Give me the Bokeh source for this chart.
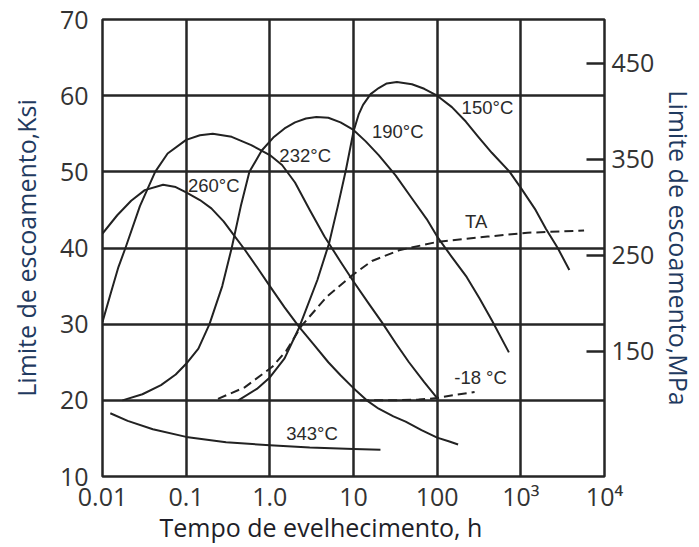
from bokeh.plotting import figure
from bokeh.models import Range1d, LinearAxis, FixedTicker, CustomJSTickFormatter, Title
from bokeh.core.properties import value
from bokeh.embed import file_html
from bokeh.resources import INLINE

# ---------------- data ----------------
x_ticks = [0.01, 0.1, 1.0, 10, 100, 1000, 10000]
x_tick_labels = ["0.01", "0.1", "1.0", "10", "100", "10\u00b3", "10\u2074"]
y_ticks = [10, 20, 30, 40, 50, 60, 70]
mpa_ticks = [150, 250, 350, 450]

t_260 = [0.01, 0.015, 0.022, 0.032, 0.053, 0.075, 0.1, 0.146, 0.2, 0.28, 0.36, 0.5, 0.7, 1.0, 1.5, 2.25, 3.3, 5, 7, 10, 14.4, 20, 30, 42, 65, 100, 140, 178]
v_260 = [41.9, 44.3, 46.2, 47.6, 48.3, 48.0, 47.3, 46.3, 45.2, 43.5, 41.9, 39.8, 37.5, 35.0, 32.2, 29.6, 27.4, 25.0, 23.3, 21.6, 20.0, 18.9, 17.9, 17.2, 16.1, 15.1, 14.6, 14.2]

t_232 = [0.01, 0.0125, 0.0155, 0.0188, 0.028, 0.0426, 0.06, 0.1, 0.146, 0.208, 0.35, 0.6, 1.0, 1.4, 2.0, 3.0, 4.5, 7, 10, 15, 22, 32, 46, 70, 100]
v_232 = [30.3, 34.0, 37.5, 40.0, 45.5, 50.0, 52.4, 54.2, 54.8, 55.0, 54.6, 53.5, 52.2, 50.9, 48.6, 45.0, 41.5, 38.2, 35.6, 32.8, 30.2, 27.5, 25.0, 22.4, 20.3]

t_190 = [0.0173, 0.03, 0.05, 0.075, 0.1, 0.14, 0.19, 0.27, 0.35, 0.45, 0.57, 0.8, 1.1, 1.5, 2.0, 2.7, 3.6, 5, 7, 10, 14, 20, 32, 50, 75, 100, 150, 225, 320, 450, 720]
v_190 = [20.0, 20.8, 22.0, 23.4, 24.8, 26.8, 30.0, 35.0, 40.0, 45.5, 50.0, 52.8, 54.5, 55.7, 56.5, 57.0, 57.2, 57.1, 56.5, 55.5, 54.0, 52.2, 49.5, 46.5, 43.8, 41.5, 38.8, 36.2, 33.4, 30.5, 26.3]

t_150 = [0.42, 0.7, 1.0, 1.5, 2.25, 3.7, 5.1, 6.5, 8.1, 10, 11.5, 13, 16, 20, 25, 33, 50, 70, 100, 150, 220, 310, 450, 735, 1000, 1500, 2000, 2760, 3800]
v_150 = [20.0, 21.5, 23.0, 25.5, 29.6, 35.8, 40.6, 45.5, 50.2, 55.3, 57.5, 58.8, 60.2, 61.0, 61.6, 61.8, 61.5, 60.9, 60.0, 58.5, 56.6, 54.6, 52.5, 50.0, 47.9, 45.0, 42.5, 40.0, 37.1]

t_343 = [0.0124, 0.02, 0.04, 0.1, 0.3, 1.0, 3, 10, 21]
v_343 = [18.3, 17.3, 16.2, 15.2, 14.5, 14.1, 13.8, 13.6, 13.5]

t_ta = [0.24, 0.5, 1.07, 1.57, 2.4, 4.8, 9.6, 16.6, 35, 100, 400, 1200, 5700]
v_ta = [20.2, 21.7, 24.4, 26.5, 29.8, 33.6, 36.4, 38.3, 39.7, 40.8, 41.5, 42.0, 42.3]

t_m18 = [12, 30, 60, 100, 160, 280]
v_m18 = [20.0, 20.0, 20.1, 20.3, 20.7, 21.1]

label_names = ["260\u00b0C", "232\u00b0C", "190\u00b0C", "150\u00b0C", "TA", "-18 \u00b0C", "343\u00b0C"]
label_t = [0.105, 1.3, 16.6, 196, 215, 160, 1.57]
label_v = [48.2, 52.2, 55.3, 58.5, 43.5, 23.0, 15.7]

x_title = "Tempo de evelhecimento, h"
y_title = "Limite de escoamento,Ksi"
y2_title = "Limite de escoamento,MPa"

# ---------------- figure ----------------
p = figure(width=699, height=547, x_axis_type="log",
           x_range=Range1d(0.01, 10000), y_range=Range1d(10, 70),
           output_backend="svg", toolbar_location=None,
           min_border_left=102, min_border_right=92,
           min_border_top=19, min_border_bottom=71)
p.background_fill_color = "white"
p.border_fill_color = "white"
p.outline_line_color = "#262626"
p.outline_line_width = 2.5

grid_col = "#262626"
p.xgrid.ticker = FixedTicker(ticks=x_ticks)
p.ygrid.ticker = FixedTicker(ticks=y_ticks)
for g in (p.xgrid, p.ygrid):
    g.grid_line_color = grid_col
    g.grid_line_width = 2.5
    g.grid_line_alpha = 1.0

tick_font = "Open Sans"
xa = p.xaxis[0]
xa.ticker = FixedTicker(ticks=x_ticks)
xa.formatter = CustomJSTickFormatter(args=dict(tvals=x_ticks, tlabels=x_tick_labels), code="""
const i = tvals.findIndex(t => Math.abs(Math.log10(t) - Math.log10(tick)) < 1e-6);
return i >= 0 ? tlabels[i] : '';
""")
xa.major_label_standoff = 2

ya = p.yaxis[0]
ya.ticker = FixedTicker(ticks=y_ticks)
ya.axis_label = y_title
ya.axis_label_text_font = tick_font
ya.axis_label_text_font_size = "25px"
ya.axis_label_text_font_style = "normal"
ya.axis_label_text_color = "#1f3a60"
ya.axis_label_standoff = 14
ya.major_label_standoff = 14

for ax in (xa, ya):
    ax.axis_line_color = None
    ax.major_tick_line_color = None
    ax.minor_tick_line_color = None
    ax.major_tick_out = 0
    ax.major_tick_in = 0
    ax.major_label_text_font = tick_font
    ax.major_label_text_font_size = "25px"
    ax.major_label_text_color = "#333333"

p.extra_y_ranges = {"mpa": Range1d(19.8, 495.8)}
ra = LinearAxis(y_range_name="mpa", ticker=FixedTicker(ticks=mpa_ticks))
ra.axis_label = y2_title
ra.axis_label_text_font = tick_font
ra.axis_label_text_font_size = "25px"
ra.axis_label_text_font_style = "normal"
ra.axis_label_text_color = "#1f3a60"
ra.axis_label_standoff = 5
ra.axis_line_color = None
ra.major_tick_in = 18
ra.major_tick_out = 0
ra.major_tick_line_color = "#262626"
ra.major_tick_line_width = 2.5
ra.minor_tick_line_color = None
ra.major_label_standoff = 7
ra.major_label_text_font = tick_font
ra.major_label_text_font_size = "25px"
ra.major_label_text_color = "#333333"
p.add_layout(ra, "right")

# x-axis title, below the tick labels, a little left of centre as in the source
xt = Title(text=x_title, align="left", offset=57, standoff=-16,
           text_font=tick_font, text_font_size="25px", text_font_style="normal",
           text_color="#1e1e28")
p.add_layout(xt, "below")

curve_col = "#222222"
solid = [(t_260, v_260), (t_232, v_232), (t_190, v_190), (t_150, v_150), (t_343, v_343)]
for t, v in solid:
    p.line(t, v, line_color=curve_col, line_width=2, line_join="round")
for t, v in [(t_ta, v_ta), (t_m18, v_m18)]:
    p.line(t, v, line_color=curve_col, line_width=2, line_dash="9 5")

p.text(x=label_t, y=label_v, text=label_names,
       text_font=value("Liberation Sans"), text_font_size="18.5px",
       text_align="left", text_baseline="middle", text_color="#2a2a2a")

open("out.html", "w").write(file_html(p, INLINE))
